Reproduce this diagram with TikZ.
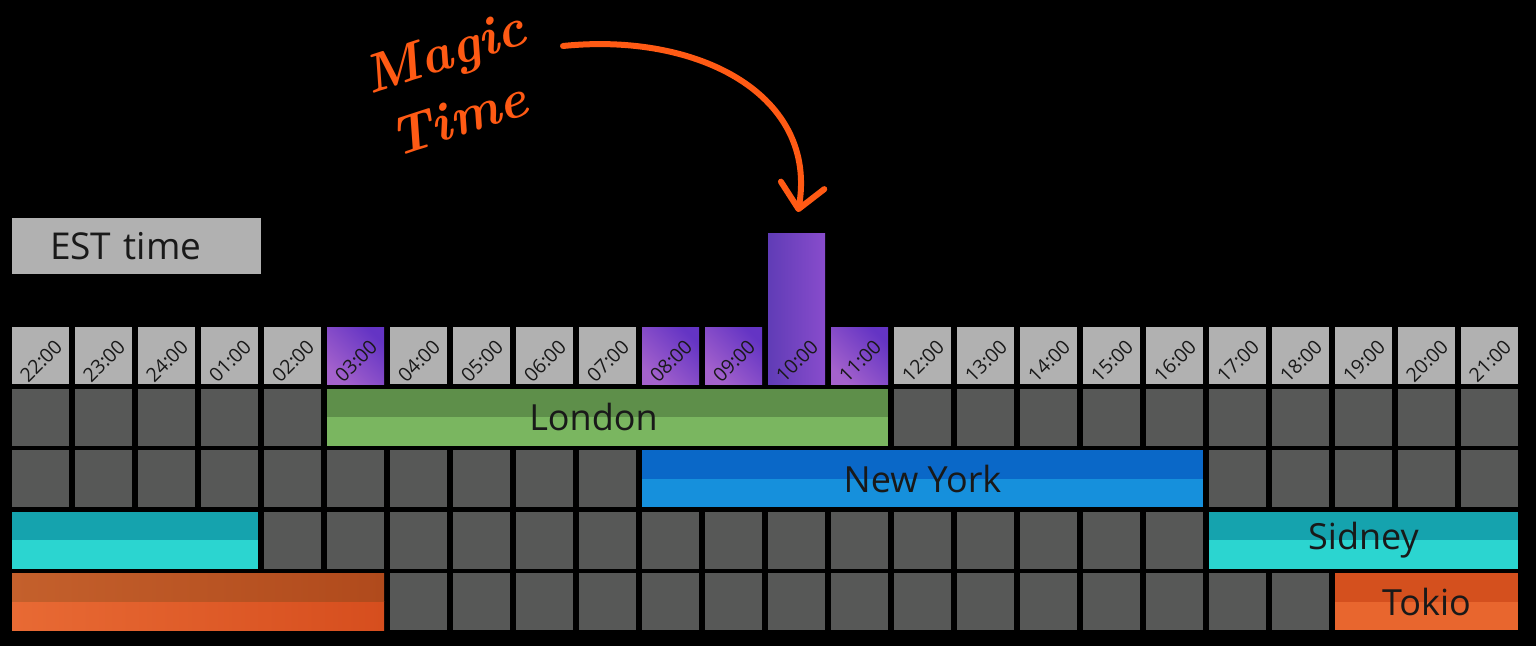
\documentclass[tikz,border=0pt]{standalone}
\usepackage{fontspec}
\setmainfont{Open Sans}
\newfontfamily\magicfont{Latin Modern Roman}
\usetikzlibrary{arrows.meta}
\definecolor{cellgray}{RGB}{87,88,87}
\definecolor{hourgray}{RGB}{177,177,177}
\definecolor{purpL}{RGB}{164,98,204}
\definecolor{purpD}{RGB}{100,52,196}
\definecolor{tallL}{RGB}{96,60,182}
\definecolor{tallR}{RGB}{136,76,204}
\definecolor{greenT}{RGB}{94,143,74}
\definecolor{greenB}{RGB}{122,182,96}
\definecolor{blueT}{RGB}{10,104,200}
\definecolor{blueB}{RGB}{22,144,220}
\definecolor{tealT}{RGB}{21,163,174}
\definecolor{tealB}{RGB}{43,213,208}
\definecolor{orangeTL}{RGB}{196,96,44}
\definecolor{orangeTR}{RGB}{176,74,28}
\definecolor{orangeBL}{RGB}{232,106,52}
\definecolor{orangeBR}{RGB}{214,78,30}
\definecolor{tokioT}{RGB}{212,80,30}
\definecolor{tokioB}{RGB}{232,102,46}
\definecolor{magicorange}{RGB}{255,90,20}

\begin{document}
\begin{tikzpicture}[x=1pt, y=-1pt,
    cell/.style = {fill=cellgray, minimum width=57pt, minimum height=57pt, inner sep=0pt},
    hour/.style = {fill=hourgray, minimum width=57pt, minimum height=57pt, inner sep=0pt},
    hourmagic/.style = {hour, left color=purpL, right color=purpD, shading angle=135},
    hourlabel/.style = {rotate=45, inner sep=0pt, text=black!90, font=\fontsize{19.5}{19.5}\selectfont},
    band/.style 2 args = {fill=#2, inner sep=0pt, minimum height=57pt, text=black!90,
        font=\fontsize{36}{36}\selectfont,
        path picture={\fill[#1] (path picture bounding box.north west) rectangle (path picture bounding box.east);}},
    fadeband/.style = {inner sep=0pt, minimum height=57pt,
        path picture={
            \shade[left color=orangeBL, right color=orangeBR] (path picture bounding box.west) rectangle (path picture bounding box.south east);
            \shade[left color=orangeTL, right color=orangeTR] (path picture bounding box.north west) rectangle (path picture bounding box.east);}},
    magic/.style = {text=magicorange, rotate=18, inner sep=0pt, font=\magicfont\itshape\bfseries\fontsize{54}{54}\selectfont}]

    % background and page size
    \fill[black] (0,0) rectangle (1536,646);
    \useasboundingbox (0,0) rectangle (1536,646);

    % the grid
    \foreach \r/\y in {1/417, 2/478.5, 3/540, 4/601.5}
        \foreach \i in {0,...,23}
            \node[cell] (c\r-\i) at (40.5+63*\i, \y) {};

    % hours
    \foreach \i/\t in {0/22:00, 1/23:00, 2/24:00, 3/01:00, 4/02:00, 5/03:00, 6/04:00, 7/05:00,
                       8/06:00, 9/07:00, 10/08:00, 11/09:00, 12/10:00, 13/11:00, 14/12:00, 15/13:00,
                       16/14:00, 17/15:00, 18/16:00, 19/17:00, 20/18:00, 21/19:00, 22/20:00, 23/21:00}
    {
        \ifnum\i=5 \def\hs{hourmagic}\else\ifnum\i=10 \def\hs{hourmagic}\else
        \ifnum\i=11 \def\hs{hourmagic}\else\ifnum\i=13 \def\hs{hourmagic}\else
        \def\hs{hour}\fi\fi\fi\fi
        \ifnum\i=12
            \node[hour, left color=tallL, right color=tallR, minimum height=151pt] (h\i) at (40.5+63*\i, 308.5) {};
        \else
            \node[\hs] (h\i) at (40.5+63*\i, 355.5) {};
        \fi
        \node[hourlabel] (t\i) at (41+63*\i, 361) {\t};
    }

    % cities
    \node[band={greenT}{greenB}, minimum width=561pt, text width=561pt, align=center] (london) at (607.5, 417) {London\hspace*{28pt}};
    \node[band={blueT}{blueB}, minimum width=561pt] (newyork) at (922.5, 478.5) {New York};
    \node[band={tealT}{tealB}, minimum width=246pt] (sidneyA) at (135, 540) {};
    \node[band={tealT}{tealB}, minimum width=309pt] (sidneyB) at (1363.5, 540) {Sidney};
    \node[fadeband, minimum width=372pt] (tokioA) at (198, 601.5) {};
    \node[band={tokioT}{tokioB}, minimum width=183pt] (tokioB) at (1426.5, 601.5) {Tokio};

    % legend
    \node[fill=hourgray, minimum width=249pt, minimum height=56pt, inner sep=0pt,
          text width=173pt, align=left, text=black!90,
          font=\fontsize{37}{37}\selectfont] (est) at (136.5, 246) {EST time};

    % magic time
    \node[magic] (magicA) at (446, 56) {Magic};
    \node[magic] (magicB) at (458, 118) {Time};
    \coordinate (arrowstart) at (563, 46);
    \coordinate (arrowend) at (798, 212);
    \draw[magicorange, line width=6pt, line cap=round,
          -{Straight Barb[length=24pt, width=44pt, round]}]
        (arrowstart) .. controls (700, 32) and (818, 96) .. (arrowend);
\end{tikzpicture}
\end{document}
